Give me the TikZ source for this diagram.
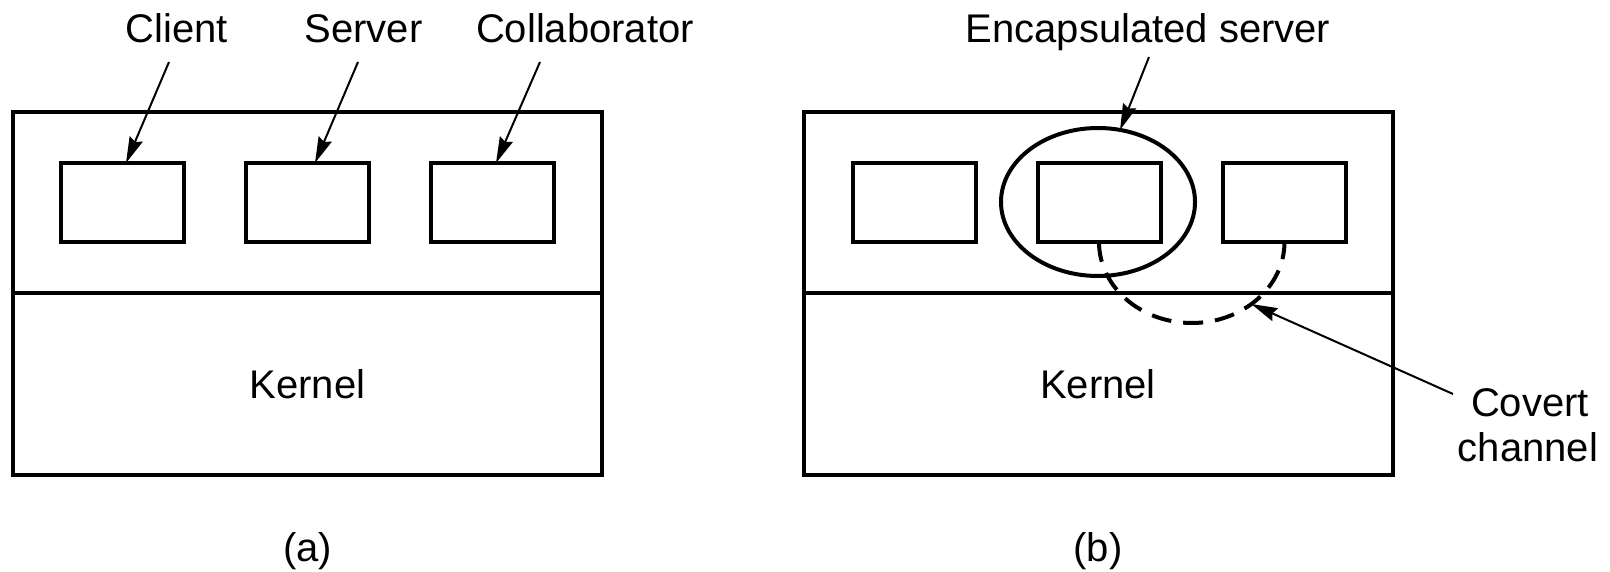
\documentclass[tikz,border=0pt]{standalone}
\usepackage{fontspec}
\setmainfont{Liberation Sans}
\usetikzlibrary{arrows.meta,shapes.geometric,calc}
\begin{document}
\begin{tikzpicture}[x=0.5pt,y=-0.5pt,
  every node/.style={font=\fontsize{20}{22.5}\selectfont},
  frame/.style={draw, line width=2pt, minimum width=294.5pt, minimum height=90.5pt, inner sep=0pt, outer sep=0pt},
  kframe/.style={frame, minimum height=91pt},
  proc/.style={draw, line width=2pt, minimum width=61.5pt, minimum height=39.5pt, inner sep=0pt, outer sep=0pt},
  lbl/.style={anchor=base, inner sep=0pt},
  ptr/.style={line width=1pt, -{Stealth[length=13pt,width=7pt,inset=1.5pt]}},
  covert/.style={line width=2pt, dash pattern=on 10pt off 6pt}]
\path[use as bounding box] (0,0) rectangle (1610,572);

% ---------- (a) ----------
\node[frame]  (userA) at (307.5,202.5) {};
\node[kframe] (kernA) at (307.5,384) {Kernel};
\node[proc] (cli) at (122.5,202.5) {};
\node[proc] (srv) at (307.5,202.5) {};
\node[proc] (col) at (492.5,202.5) {};

\node[lbl] (cliL) at (176.5,43) {Client};
\node[lbl] (srvL) at (363.5,43) {Server};
\node[lbl] (colL) at (585,43) {Collaborator};

\coordinate (cliT) at (169,62);
\coordinate (srvT) at (358,62);
\coordinate (colT) at (540,62);
\draw[ptr] (cliT) -- ([xshift=1.75pt]cli.north);
\draw[ptr] (srvT) -- ([xshift=3.75pt]srv.north);
\draw[ptr] (colT) -- ([xshift=1.75pt]col.north);

\node[lbl] (capA) at (307.5,561.5) {(a)};

% ---------- (b) ----------
\node[frame]  (userB) at (1098,202.5) {};
\node[kframe] (kernB) at (1098,384) {Kernel};
\node[proc] (p1) at (914,202.5) {};
\node[proc] (p2) at (1099,202.5) {};
\node[proc] (p3) at (1284.5,202.5) {};
\node[draw, ellipse, line width=2pt, minimum width=97pt, minimum height=74pt,
      inner sep=0pt, outer sep=0pt] (encap) at (1098,202) {};

\node[lbl] (encL) at (1148,43) {Encapsulated server};
\coordinate (encT) at (1149,57);
\draw[ptr] (encT) -- (encap.73);

% covert channel between the encapsulated server and the collaborator
\coordinate (arcC) at ($(p2.south)!0.5!(p3.south)$);
\draw[covert] (p2.south) arc[start angle=180, end angle=360, x radius=46.375pt, y radius=40.5pt];
\coordinate (cvTip) at ($(arcC)+(-50:46.375pt and 40.5pt)$);

\node[lbl] (cov1) at (1530,416) {Covert};
\node[lbl] (cov2) at (1528,461) {channel};
\coordinate (cvT) at (1453,394);
\draw[ptr] (cvT) -- (cvTip);

\node[lbl] (capB) at (1098,561.5) {(b)};
\end{tikzpicture}
\end{document}
